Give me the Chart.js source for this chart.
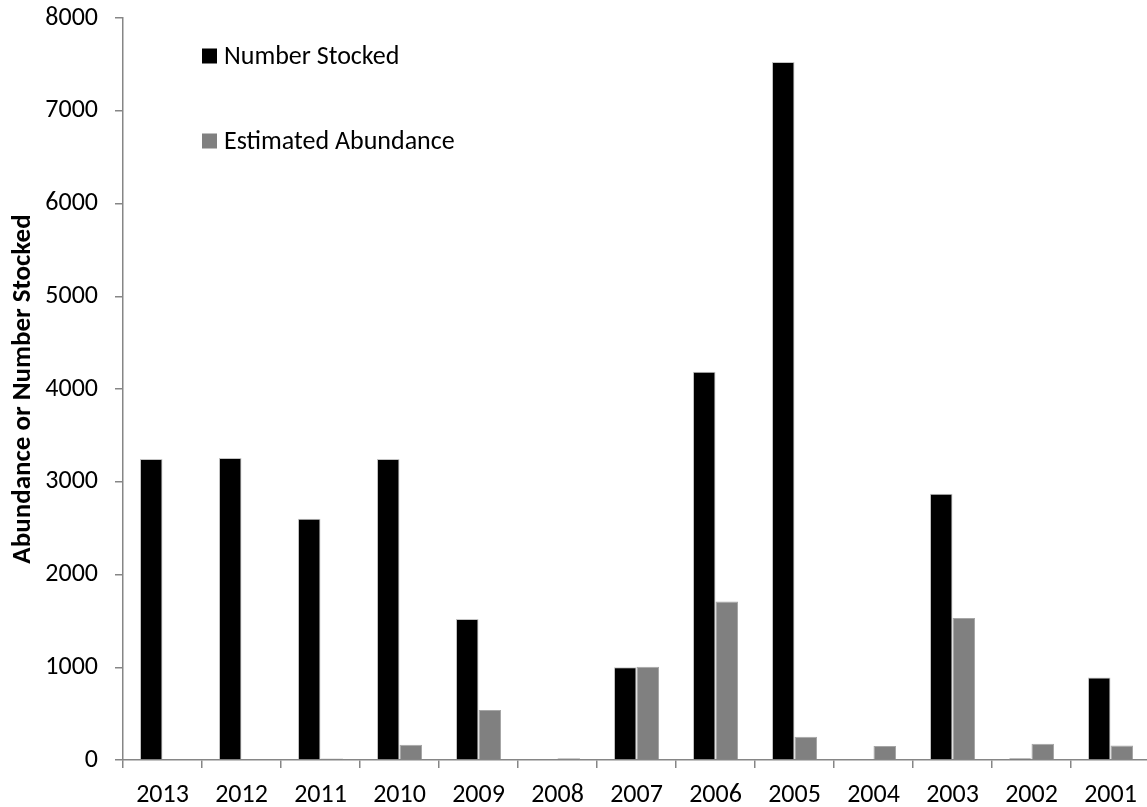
<!DOCTYPE html>
<html>
<head>
<meta charset="utf-8">
<title>Abundance or Number Stocked</title>
<script src="https://cdn.jsdelivr.net/npm/chart.js@4.4.1/dist/chart.umd.min.js"></script>
<style>
  html, body { margin: 0; padding: 0; background: #ffffff; overflow: hidden; }
  #wrap { width: 1150px; height: 807px; }
</style>
</head>
<body>
<div id="wrap"><canvas id="chart" width="1150" height="807"></canvas></div>
<script>
// Year classes, newest first
const years = ['2013', '2012', '2011', '2010', '2009', '2008', '2007', '2006', '2005', '2004', '2003', '2002', '2001'];

// Fish stocked per year
const numberStocked = [3245, 3255, 2600, 3245, 1520, 0, 1000, 4185, 7525, 0, 2870, 20, 890];

// Estimated abundance per year
const estimatedAbundance = [0, 0, 15, 165, 540, 20, 1005, 1710, 250, 150, 1530, 175, 155];

// Value axis ticks
const yTicks = [0, 1000, 2000, 3000, 4000, 5000, 6000, 7000, 8000];

const FONT = 'Carlito, Calibri, "Open Sans", sans-serif';
const AXIS_GREY = '#868686';

// Legend drawn inside the plot area, entries stacked vertically
const insideLegend = {
  id: 'insideLegend',
  afterDraw(chart) {
    const ctx = chart.ctx;
    const area = chart.chartArea;
    const x0 = area.left + 79;
    ctx.save();
    chart.data.datasets.forEach((ds, i) => {
      const cy = area.top + 38 + i * 85;
      ctx.fillStyle = ds.backgroundColor;
      ctx.fillRect(x0, cy - 7.5, 15, 15);
      ctx.fillStyle = '#000000';
      ctx.font = '26px ' + FONT;
      ctx.textBaseline = 'middle';
      ctx.textAlign = 'left';
      ctx.fillText(ds.label, x0 + 22, cy + 1);
    });
    ctx.restore();
  }
};

new Chart(document.getElementById('chart'), {
  type: 'bar',
  data: {
    labels: years,
    datasets: [
      {
        label: 'Number Stocked',
        data: numberStocked,
        backgroundColor: '#000000',
        borderColor: '#c4c4c4',
        borderWidth: 1,
        barPercentage: 1.0,
        categoryPercentage: 0.57
      },
      {
        label: 'Estimated Abundance',
        data: estimatedAbundance,
        backgroundColor: '#808080',
        borderColor: '#a6a6a6',
        borderWidth: 1,
        barPercentage: 1.0,
        categoryPercentage: 0.57
      }
    ]
  },
  options: {
    responsive: false,
    devicePixelRatio: 1,
    animation: false,
    layout: { padding: { top: 18, right: 0, left: 0, bottom: 0 } },
    plugins: {
      legend: { display: false },
      tooltip: { enabled: false }
    },
    scales: {
      x: {
        grid: {
          drawOnChartArea: false,
          drawTicks: true,
          tickLength: 8,
          color: AXIS_GREY,
          lineWidth: 1.5,
          offset: true
        },
        border: { color: AXIS_GREY, width: 1.5 },
        ticks: {
          color: '#000000',
          font: { family: FONT, size: 26 },
          padding: 12,
          maxRotation: 0,
          autoSkip: false
        },
        afterFit(scale) { scale.height = 47; }
      },
      y: {
        min: 0,
        max: 8000,
        afterBuildTicks(scale) { scale.ticks = yTicks.map(v => ({ value: v })); },
        grid: {
          drawOnChartArea: false,
          drawTicks: true,
          tickLength: 8,
          color: AXIS_GREY,
          lineWidth: 1.5
        },
        border: { color: AXIS_GREY, width: 1.5 },
        ticks: {
          color: '#000000',
          font: { family: FONT, size: 26 },
          padding: 17,
          callback: (v) => String(v)
        },
        title: {
          display: true,
          text: 'Abundance or Number Stocked',
          color: '#000000',
          font: { family: FONT, size: 27, weight: 'bold' },
          padding: { top: 7, bottom: 0 }
        },
        afterFit(scale) {
          scale.width = 123;
          scale.paddingTop = 0;
          scale.paddingBottom = 0;
        }
      }
    }
  },
  plugins: [insideLegend]
});
</script>
</body>
</html>
